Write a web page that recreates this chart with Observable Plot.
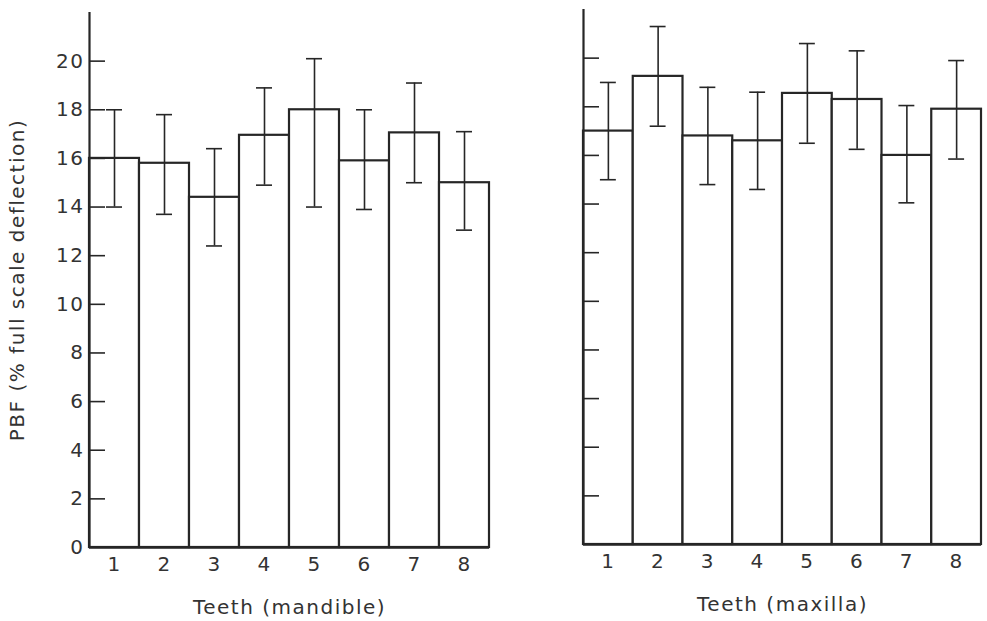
<!DOCTYPE html>
<html>
<head>
<meta charset="utf-8">
<script src="https://cdn.jsdelivr.net/npm/d3@7"></script>
<script src="https://cdn.jsdelivr.net/npm/@observablehq/plot@0.6"></script>
<style>
  html, body { margin: 0; padding: 0; background: #fff; }
  #wrap { position: relative; width: 987px; height: 621px; overflow: hidden; }
  .panel { position: absolute; top: 0; }
  svg { font-family: "DejaVu Sans", sans-serif; }
  svg text { letter-spacing: 1.5px; }
</style>
</head>
<body>
<div id="wrap">
  <div id="left" class="panel" style="left:0px"></div>
  <div id="right" class="panel" style="left:500px"></div>
</div>
<script>
const teeth = [1, 2, 3, 4, 5, 6, 7, 8];
const mandibleMean = [16.0, 15.8, 14.4, 16.95, 18.0, 15.9, 17.05, 15.0];
const mandibleHigh = [18.0, 17.8, 16.4, 18.9, 20.1, 18.0, 19.1, 17.1];
const mandibleLow  = [14.0, 13.7, 12.4, 14.9, 14.0, 13.9, 15.0, 13.05];
const maxillaMean  = [17.0, 19.25, 16.8, 16.6, 18.55, 18.3, 16.0, 17.9];
const maxillaHigh  = [19.0, 21.3, 18.8, 18.6, 20.6, 20.3, 18.05, 19.9];
const maxillaLow   = [15.0, 17.2, 14.8, 14.6, 16.5, 16.25, 14.05, 15.85];
const yTickValues = [0, 2, 4, 6, 8, 10, 12, 14, 16, 18, 20];
const yMax = 22;
const yLabel = "PBF (% full scale deflection)";
const xLabels = ["Teeth (mandible)", "Teeth (maxilla)"];

const ink = "#262626";
const xDomain = [teeth[0] - 0.5, teeth[teeth.length - 1] + 0.5];

function panel({mean, high, low, width, marginLeft, marginRight, marginTop, marginBottom, xLabel, showYLabels}) {
  const data = teeth.map((t, i) => ({tooth: t, mean: mean[i], high: high[i], low: low[i]}));
  const height = 621;
  const marks = [
    Plot.rectY(data, {x1: d => d.tooth - 0.5, x2: d => d.tooth + 0.5, y1: 0, y2: "mean", fill: "white", stroke: ink, strokeWidth: 2.2}),
    Plot.ruleX(data, {x: "tooth", y1: "low", y2: "high", stroke: ink, strokeWidth: 1.6}),
    Plot.ruleY(data, {y: "high", x1: d => d.tooth - 0.16, x2: d => d.tooth + 0.16, stroke: ink, strokeWidth: 1.6}),
    Plot.ruleY(data, {y: "low", x1: d => d.tooth - 0.16, x2: d => d.tooth + 0.16, stroke: ink, strokeWidth: 1.6}),
    Plot.ruleX([xDomain[0]], {y1: 0, y2: yMax, stroke: ink, strokeWidth: 2.2}),
    Plot.ruleY([0], {x1: xDomain[0], x2: xDomain[1], stroke: ink, strokeWidth: 2.4}),
    Plot.axisY({ticks: yTickValues.filter(v => v > 0), tickSize: -16, tickFormat: () => "", stroke: ink, strokeWidth: 1.6, label: null}),
    Plot.axisX({ticks: teeth, tickSize: 0, tickPadding: 9, fontSize: 20, fill: "#333", tickFormat: d3.format("d"),
      label: xLabel, labelAnchor: "center", labelArrow: "none", labelOffset: 66})
  ];
  if (showYLabels) {
    marks.push(Plot.axisY({ticks: yTickValues, tickSize: 0, tickPadding: 5, fontSize: 20, fill: "#333",
      label: yLabel, labelAnchor: "center", labelArrow: "none", labelOffset: 80}));
  }
  return Plot.plot({
    width, height, marginLeft, marginRight, marginTop, marginBottom,
    style: {fontSize: "18px", fontFamily: "DejaVu Sans, sans-serif", color: "#333", background: "white"},
    x: {type: "linear", domain: xDomain},
    y: {domain: [0, yMax]},
    marks
  });
}

document.getElementById("left").append(panel({
  mean: mandibleMean, high: mandibleHigh, low: mandibleLow,
  width: 500, marginLeft: 89, marginRight: 11, marginTop: 12, marginBottom: 74,
  xLabel: xLabels[0], showYLabels: true
}));
document.getElementById("right").append(panel({
  mean: maxillaMean, high: maxillaHigh, low: maxillaLow,
  width: 487, marginLeft: 83, marginRight: 6, marginTop: 9, marginBottom: 77,
  xLabel: xLabels[1], showYLabels: false
}));
</script>
</body>
</html>
